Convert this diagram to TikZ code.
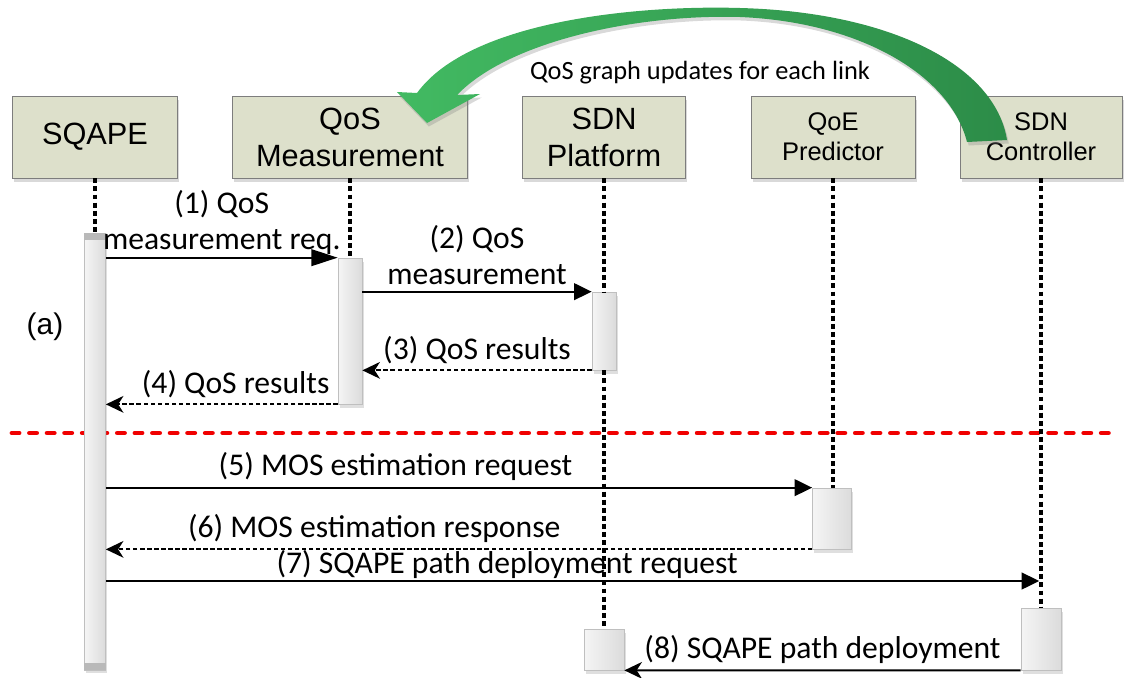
\documentclass[tikz,border=0pt]{standalone}
\usepackage{fontspec}
\setmainfont{Carlito}
\newfontfamily\arial{Liberation Sans}
\usetikzlibrary{arrows.meta}
\usetikzlibrary{shadows}
\definecolor{boxfill}{RGB}{221,224,203}
\definecolor{boxline}{RGB}{125,125,125}
\definecolor{arrowlight}{RGB}{66,186,98}
\definecolor{arrowdark}{RGB}{44,140,72}
\definecolor{sepred}{RGB}{240,0,0}

\begin{document}
\begin{tikzpicture}[x=0.02cm, y=-0.02cm,
    actor/.style={draw=boxline, fill=boxfill, minimum width=3.3cm, minimum height=1.64cm, align=center,
      font=\arial\fontsize{17.5}{21}\selectfont, drop shadow={opacity=.3, shadow xshift=1pt, shadow yshift=-2.5pt}},
    smallactor/.style={actor, font=\arial\fontsize{14.5}{17}\selectfont},
    bar/.style={draw=gray!50, left color=gray!8, right color=gray!28, inner sep=0pt,
      drop shadow={opacity=.25, shadow xshift=1pt, shadow yshift=-2pt}},
    lifeline/.style={line width=1.8pt, dash pattern=on 2.8pt off 1.8pt},
    msg/.style={line width=1.1pt, -{Triangle[length=10pt,width=9.5pt]}},
    reply/.style={line width=1.1pt, dash pattern=on 2.5pt off 1.5pt, -{Stealth[length=10pt,width=9.5pt,inset=3pt]}},
    lbl/.style={font=\fontsize{18}{20.5}\selectfont, align=center}]
    \useasboundingbox (0,0) rectangle (1124,677);

    % separator between phase (a) and the rest
    \draw[sepred, line width=2.8pt, line cap=round, dash pattern=on 4pt off 6pt] (12,433) -- (1110,433);

    % participants
    \node[actor] (sqape) at (95,137) {SQAPE};
    \node[actor, minimum width=4.7cm] (qosm) at (350,137) {QoS\\Measurement};
    \node[actor, minimum width=3.26cm] (sdnp) at (604,137) {SDN\\Platform};
    \node[smallactor, minimum width=3.28cm] (qoep) at (833,137) {QoE\\Predictor};
    \node[smallactor, minimum width=3.24cm] (sdnc) at (1041,137) {SDN\\Controller};

    % activation bars
    \node[bar, minimum width=0.42cm, minimum height=8.74cm] (actS) at (95,451.5) {};
    \fill[gray!55] (actS.north west) rectangle ([yshift=-4pt]actS.north east);
    \fill[gray!55] (actS.south west) rectangle ([yshift=4pt]actS.south east);
    \node[bar, minimum width=0.48cm, minimum height=2.92cm] (actQ) at (350,331) {};
    \node[bar, minimum width=0.48cm, minimum height=1.56cm] (actP) at (604,331) {};
    \node[bar, minimum width=0.8cm, minimum height=0.82cm] (actP2) at (604,649.5) {};
    \node[bar, minimum width=0.78cm, minimum height=1.22cm] (actE) at (832,518.5) {};
    \node[bar, minimum width=0.8cm, minimum height=1.24cm] (actC) at (1041,639) {};

    % lifelines
    \foreach \a/\b in {sqape/actS, qosm/actQ, sdnp/actP, actP/actP2, qoep/actE, sdnc/actC}
    {\draw[lifeline] (\a.south) -- (\a.south |- \b.north);}

    % messages
    \coordinate (r7) at (0,581);
    \draw[msg, -{Triangle[length=15pt,width=9.5pt]}] (actS.east |- actQ.north) -- node[lbl, above, inner sep=1pt]{(1) QoS\\measurement req.} (actQ.north west);
    \draw[msg] (actQ.east |- actP.north) -- node[lbl, above]{(2) QoS\\measurement} (actP.north west);
    \draw[reply] (actP.south west) -- node[lbl, above]{(3) QoS results} (actQ.east |- actP.south);
    \draw[reply] (actQ.south west) -- node[lbl, above, pos=.44]{(4) QoS results} (actS.east |- actQ.south);
    \draw[msg] (actS.east |- actE.north) -- node[lbl, above, pos=.41]{(5) MOS estimation request} (actE.north west);
    \draw[reply] (actE.south west) -- node[lbl, above, pos=.62]{(6) MOS estimation response} (actS.east |- actE.south);
    \draw[msg] (actS.east |- r7) -- node[lbl, above, pos=.43, inner sep=1pt]{(7) SQAPE path deployment request} ([xshift=-1pt]sdnc.south |- r7);
    \draw[reply, solid] (actC.south west) -- node[lbl, above]{(8) SQAPE path deployment} (actP2.south east);

    % QoS graph feedback from the controller
    \shade[left color=arrowlight, right color=arrowdark, drop shadow={opacity=.3, shadow xshift=1pt, shadow yshift=-2pt}]
      (417,93) .. controls (470,20) and (640,5) .. (740,8)
      .. controls (890,12) and (995,65) .. (1007,140)
      -- (967,142)
      .. controls (950,75) and (860,22) .. (740,17)
      .. controls (640,14) and (510,40) .. (457,95)
      -- (480,94) -- (427,123) -- (397,92) -- cycle;
    \node[font=\fontsize{15}{17}\selectfont] (upd) at (700,73) {QoS graph updates for each link};

    \node[font=\arial\fontsize{17}{20}\selectfont] (phase) at (45,327) {(a)};
\end{tikzpicture}
\end{document}
